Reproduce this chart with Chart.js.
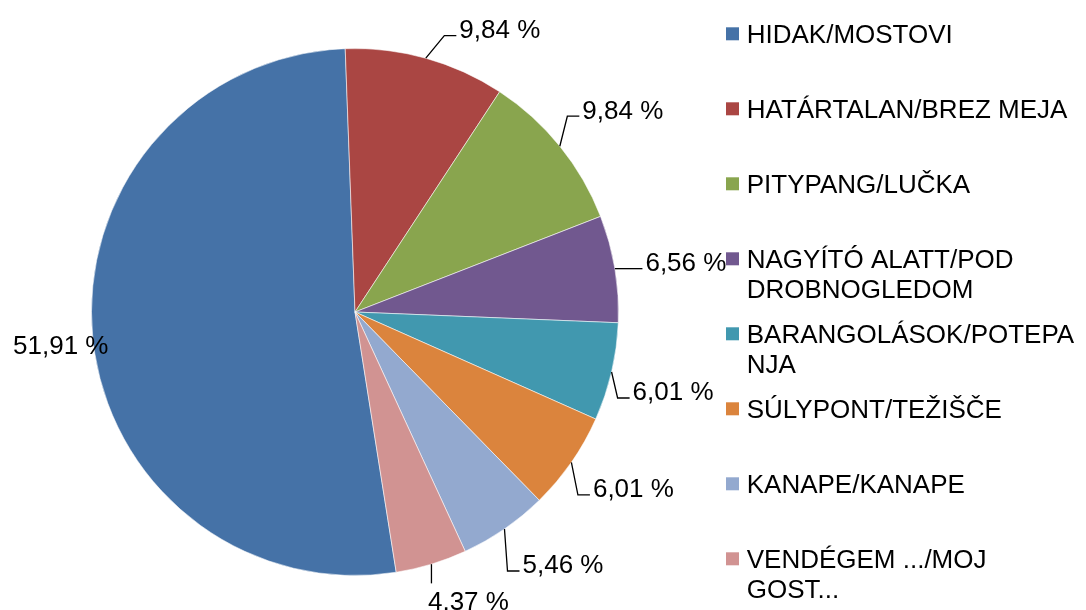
<!DOCTYPE html>
<html><head><meta charset="utf-8">
<script src="https://cdn.jsdelivr.net/npm/chart.js@4.4.1/dist/chart.umd.min.js"></script>
<style>html,body{margin:0;padding:0;background:#fff;} #wrap{width:1086px;height:610px;position:relative;}</style>
</head><body><div id="wrap"><canvas id="c" width="1086" height="610"></canvas></div>
<script>
const categories = ["HIDAK/MOSTOVI","HATÁRTALAN/BREZ MEJA","PITYPANG/LUČKA","NAGYÍTÓ ALATT/POD DROBNOGLEDOM","BARANGOLÁSOK/POTEPANJA","SÚLYPONT/TEŽIŠČE","KANAPE/KANAPE","VENDÉGEM .../MOJ GOST..."];
const shares = [51.91, 9.84, 9.84, 6.56, 6.01, 6.01, 5.46, 4.37];
const sliceColors = ["#4572A7","#AA4643","#89A54E","#71588F","#4198AF","#DB843D","#93A9CF","#D19392"];
// label placement styling: text centre offset from the slice's outer mid point, and leader kind
const labelOffsets = [[-32,7],[74,-29.5],[63,-37],[71,-7],[61.5,19],[62,25.5],[58.5,35],[37,36.5]];
const leaderKinds = ["none","elbow","elbow","elbow","elbow","elbow","elbow","below"];

const FONT = '26px "Liberation Sans", Arial, sans-serif';
const fmt = v => v.toFixed(2).replace('.', ',') + ' %';

const labelPlugin = {
  id: 'outLabels',
  afterDatasetsDraw(chart) {
    const ctx = chart.ctx;
    const meta = chart.getDatasetMeta(0);
    ctx.save();
    ctx.font = FONT;
    ctx.fillStyle = '#000';
    ctx.strokeStyle = '#000';
    ctx.lineWidth = 1.3;
    ctx.textAlign = 'left';
    ctx.textBaseline = 'alphabetic';
    meta.data.forEach((arc, i) => {
      const p = arc.getProps(['x','y','startAngle','endAngle','outerRadius'], true);
      const mid = (p.startAngle + p.endAngle) / 2;
      const ex = p.x + Math.cos(mid) * p.outerRadius;
      const ey = p.y + Math.sin(mid) * p.outerRadius;
      const txt = fmt(chart.data.datasets[0].data[i]);
      const w = ctx.measureText(txt).width;
      const cx = ex + labelOffsets[i][0];
      const cy = ey + labelOffsets[i][1];
      const left = cx - w / 2;
      ctx.fillText(txt, left, cy + 9.3);
      const kind = leaderKinds[i];
      if (kind === 'elbow') {
        const endX = left - 3, lineY = cy + 7, elbowX = endX - 12;
        ctx.beginPath();
        ctx.moveTo(ex, ey);
        ctx.lineTo(elbowX, lineY);
        ctx.lineTo(endX, lineY);
        ctx.stroke();
      } else if (kind === 'below') {
        ctx.beginPath();
        ctx.moveTo(ex, ey);
        ctx.lineTo(ex, cy - 9.3 - 8);
        ctx.stroke();
      }
    });
    ctx.restore();
  }
};

function wrapText(ctx, text, maxW) {
  const words = text.split(' ');
  const lines = [];
  let cur = '';
  for (const word of words) {
    const test = cur ? cur + ' ' + word : word;
    if (ctx.measureText(test).width <= maxW) { cur = test; continue; }
    if (cur) { lines.push(cur); cur = ''; }
    if (ctx.measureText(word).width <= maxW) { cur = word; continue; }
    let part = '';
    for (const ch of word) {
      if (ctx.measureText(part + ch).width > maxW) { lines.push(part); part = ch; }
      else part += ch;
    }
    cur = part;
  }
  if (cur) lines.push(cur);
  return lines;
}

const legendPlugin = {
  id: 'sideLegend',
  afterDraw(chart) {
    const ctx = chart.ctx;
    const labels = chart.data.labels;
    const colors = chart.data.datasets[0].backgroundColor;
    ctx.save();
    ctx.font = FONT;
    ctx.fillStyle = '#000';
    ctx.textAlign = 'left';
    ctx.textBaseline = 'alphabetic';
    const sqX = 726, txX = 746.7, y0 = 33.3, step = 75, lh = 30, maxW = 336;
    labels.forEach((lab, i) => {
      const cy = y0 + i * step;
      ctx.fillStyle = colors[i];
      ctx.fillRect(sqX, cy - 6, 13, 13);
      ctx.fillStyle = '#000';
      wrapText(ctx, lab, maxW).forEach((ln, j) => ctx.fillText(ln, txX, cy + j * lh + 9.3));
    });
    ctx.restore();
  }
};

new Chart(document.getElementById('c'), {
  type: 'pie',
  data: {
    labels: categories,
    datasets: [{
      data: shares,
      backgroundColor: sliceColors,
      borderColor: 'rgba(255,255,255,0.55)',
      borderWidth: 1,
      hoverOffset: 0
    }]
  },
  options: {
    responsive: false,
    animation: false,
    rotation: 171,
    layout: { padding: { left: 91, top: 48, right: 467, bottom: 34 } },
    plugins: { legend: { display: false }, tooltip: { enabled: false } }
  },
  plugins: [labelPlugin, legendPlugin]
});
</script>
</body></html>
